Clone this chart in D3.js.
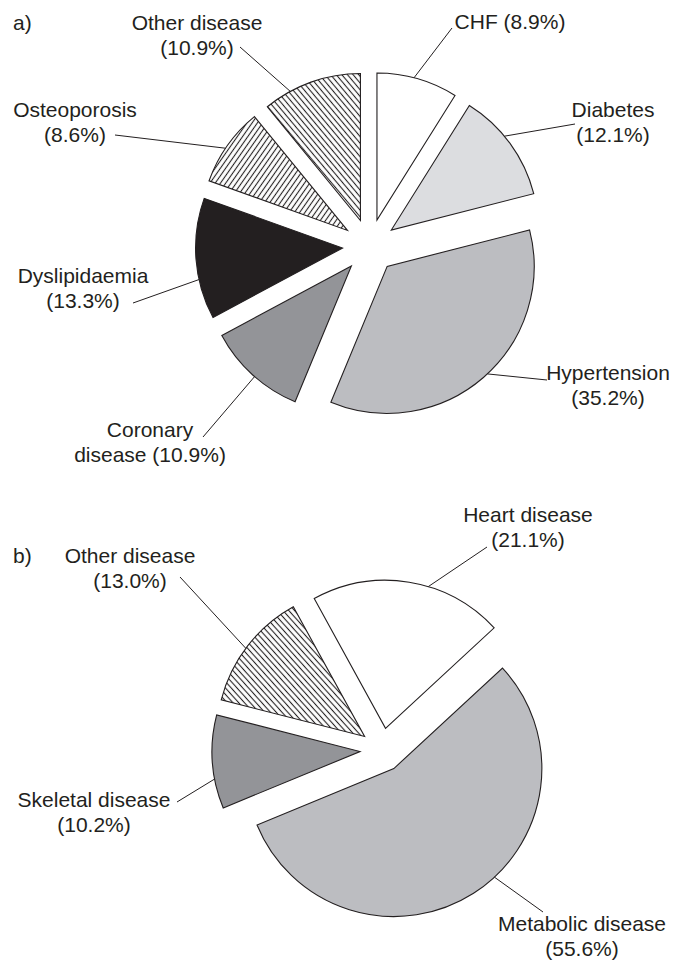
<!DOCTYPE html>
<html>
<head>
<meta charset="utf-8">
<script src="https://cdn.jsdelivr.net/npm/d3@7"></script>
<style>
  body { margin: 0; background: #fff; }
  text { font-family: "Liberation Sans", Arial, sans-serif; font-size: 21px; fill: #231f20; }
</style>
</head>
<body>
<div id="chart"></div>
<script>
// panel a) - chronic disease shares
const namesA = ["CHF", "Diabetes", "Hypertension", "Coronary disease", "Dyslipidaemia", "Osteoporosis", "Other disease"];
const valuesA = [8.9, 12.1, 35.2, 10.9, 13.3, 8.6, 10.9];
// panel b) - grouped
const namesB = ["Heart disease", "Metabolic disease", "Skeletal disease", "Other disease"];
const valuesB = [21.1, 55.6, 10.2, 13.0];

const width = 673, height = 964;
const ink = "#231f20";
const fmt = d3.format(".1f");

// fills per slice (pattern ids for hatches)
const fillsA = ["#ffffff", "#dcdde0", "#bcbdc1", "#939498", ink, "url(#hatchUp)", "url(#hatchDown)"];
const fillsB = ["#ffffff", "#bcbdc1", "#939498", "url(#hatchDownB)"];

// label layout: text centre x, first baseline, wrap mode, leader start, leader angle on arc (deg)
const layoutA = [
  {x: 510, y: 29,  mode: "inline", lx: 452, ly: 28,  ang: 14.6},
  {x: 613, y: 117, mode: "break",  lx: 575, ly: 124, ang: 50.3},
  {x: 608, y: 380, mode: "break",  lx: 547, ly: 380, ang: 137},
  {x: 150, y: 437, mode: "word",   lx: 203, ly: 437, ang: 221.2},
  {x: 83,  y: 283, mode: "break",  lx: 133, ly: 303, ang: 257.6},
  {x: 75,  y: 117, mode: "break",  lx: 115, ly: 135, ang: 304},
  {x: 197, y: 30,  mode: "break",  lx: 240, ly: 47,  ang: 331.5}
];
const layoutB = [
  {x: 528, y: 522, mode: "break", lx: 487, ly: 547, ang: 16.8},
  {x: 582, y: 931, mode: "break", lx: 543, ly: 912, ang: 137.2},
  {x: 94,  y: 807, mode: "break", lx: 177, ly: 802, ang: 259.3},
  {x: 130, y: 563, mode: "break", lx: 180, ly: 577, ang: 306.6}
];

const svg = d3.select("#chart").append("svg")
  .attr("width", width).attr("height", height)
  .attr("viewBox", [0, 0, width, height]);

// hatch patterns
const defs = svg.append("defs");
function hatch(id, rot, gap) {
  const p = defs.append("pattern")
    .attr("id", id)
    .attr("patternUnits", "userSpaceOnUse")
    .attr("width", gap).attr("height", gap)
    .attr("patternTransform", `rotate(${rot})`);
  p.append("rect").attr("width", gap).attr("height", gap).attr("fill", "#fff");
  p.append("line")
    .attr("x1", gap / 2).attr("y1", 0).attr("x2", gap / 2).attr("y2", gap)
    .attr("stroke", ink).attr("stroke-width", 1.1);
}
hatch("hatchDown", -40, 4.3);
hatch("hatchUp", 35, 4.3);
hatch("hatchDownB", -42, 4.3);

function lines(name, v, mode) {
  const pct = "(" + fmt(v) + "%)";
  if (mode === "inline") return [name + " " + pct];
  if (mode === "word") {
    const i = name.indexOf(" ");
    return [name.slice(0, i), name.slice(i + 1) + " " + pct];
  }
  return [name, pct];
}

function drawPie(opts) {
  const {names, values, fills, layout, cx, cy, r, explode, start} = opts;
  const pie = d3.pie().sort(null).value(d => d)
    .startAngle(start).endAngle(start + 2 * Math.PI);
  const arc = d3.arc().innerRadius(0).outerRadius(r);
  const arcs = pie(values);

  const g = svg.append("g").attr("transform", `translate(${cx},${cy})`);

  const shift = d => {
    const m = (d.startAngle + d.endAngle) / 2;
    return [explode * Math.sin(m), -explode * Math.cos(m)];
  };

  g.selectAll("path.slice")
    .data(arcs)
    .join("path")
    .attr("class", "slice")
    .attr("d", arc)
    .attr("transform", d => `translate(${shift(d)})`)
    .attr("fill", (d, i) => fills[i])
    .attr("stroke", ink)
    .attr("stroke-width", 1.1)
    .attr("stroke-linejoin", "miter");

  // leader lines
  g.selectAll("line.leader")
    .data(arcs)
    .join("line")
    .attr("class", "leader")
    .attr("x1", (d, i) => layout[i].lx - cx)
    .attr("y1", (d, i) => layout[i].ly - cy)
    .attr("x2", (d, i) => {
      const a = layout[i].ang * Math.PI / 180;
      return shift(d)[0] + r * Math.sin(a);
    })
    .attr("y2", (d, i) => {
      const a = layout[i].ang * Math.PI / 180;
      return shift(d)[1] - r * Math.cos(a);
    })
    .attr("stroke", ink)
    .attr("stroke-width", 1);

  // labels
  arcs.forEach((d, i) => {
    const L = layout[i];
    const t = svg.append("text").attr("text-anchor", "middle");
    lines(names[i], values[i], L.mode).forEach((s, k) => {
      t.append("tspan").attr("x", L.x).attr("y", L.y + k * 25).text(s);
    });
  });
}

drawPie({names: namesA, values: valuesA, fills: fillsA, layout: layoutA,
  cx: 369.5, cy: 246, r: 147, explode: 27, start: 0});
drawPie({names: namesB, values: valuesB, fills: fillsB, layout: layoutB,
  cx: 382, cy: 750, r: 148, explode: 22, start: -28.8 * Math.PI / 180});

svg.append("text").attr("x", 13).attr("y", 30).text("a)");
svg.append("text").attr("x", 13).attr("y", 563).text("b)");
</script>
</body>
</html>
